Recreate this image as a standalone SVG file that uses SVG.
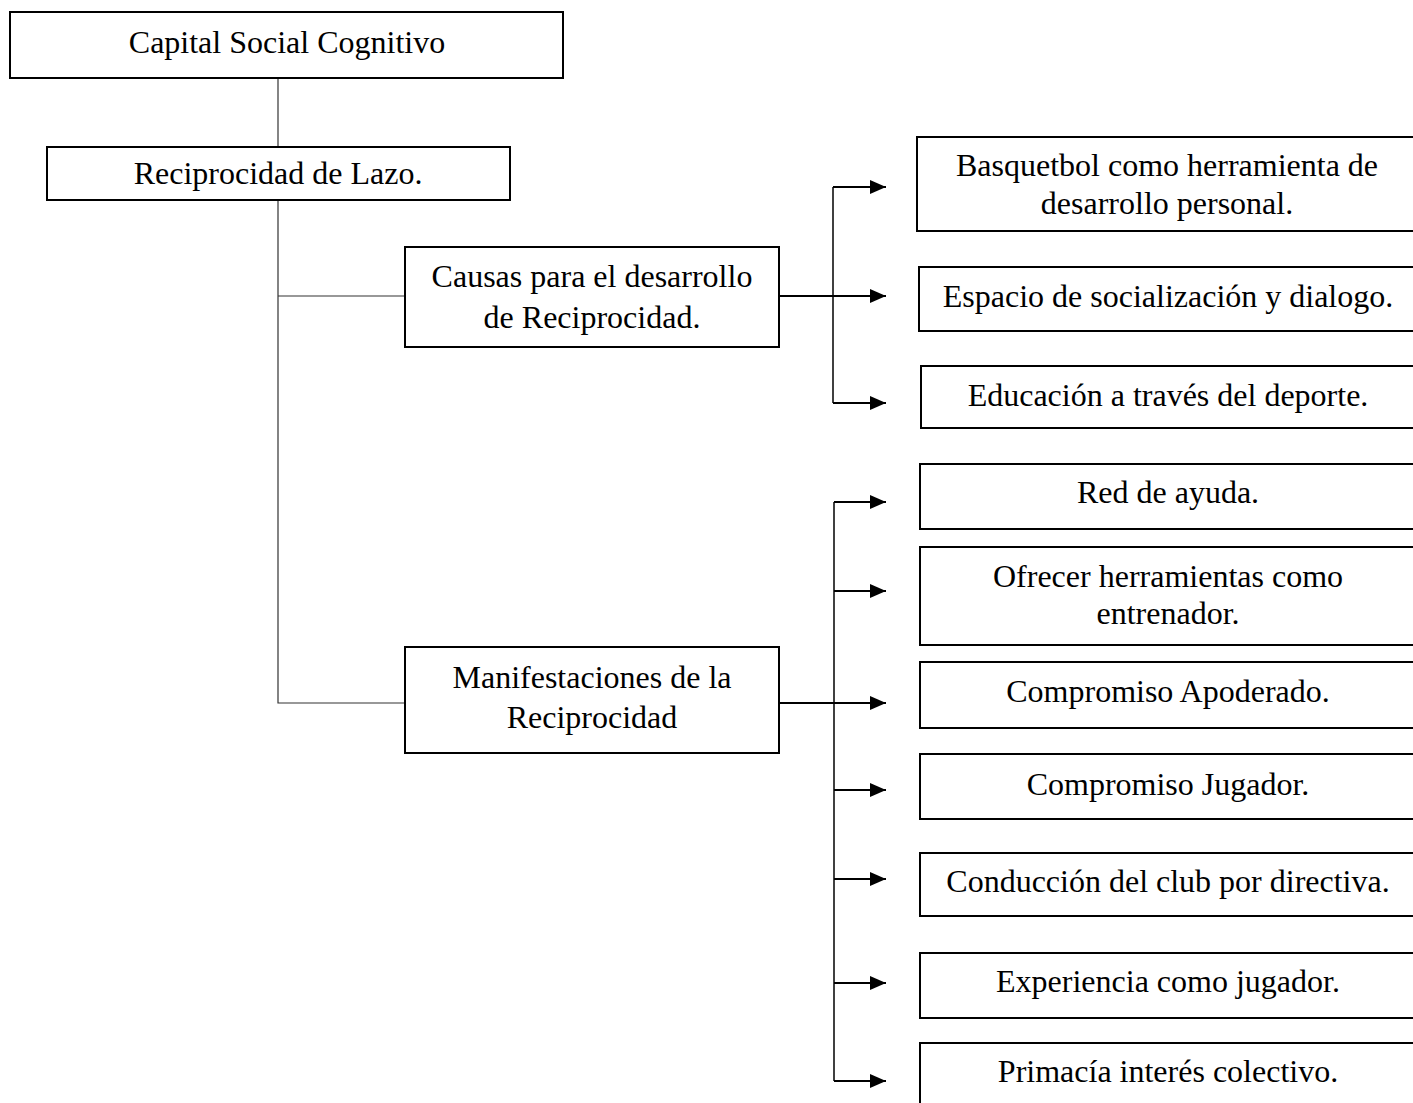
<svg xmlns="http://www.w3.org/2000/svg" width="1413" height="1103" viewBox="0 0 1413 1103">
  <style>
    .box { fill: #ffffff; stroke: #000000; stroke-width: 2; }
    .lbl { font-family: "Liberation Serif", "Times New Roman", serif; font-size: 32px; fill: #000000; text-anchor: middle; }
    .thin { fill: none; stroke: #333333; stroke-width: 1.2; }
    .arr { fill: none; stroke: #000000; stroke-width: 2; }
    .rail { fill: none; stroke: #000000; stroke-width: 1.5; }
  </style>
  <defs>
    <marker id="head" markerUnits="userSpaceOnUse" markerWidth="16" markerHeight="14" refX="16" refY="7" orient="auto">
      <path d="M0,0 L16,7 L0,14 Z" fill="#000000"/>
    </marker>
  </defs>
  <rect width="1413" height="1103" fill="#ffffff"/>

  <!-- connectors -->
  <g id="connectors">
    <path class="thin" d="M278,78 V147"/>
    <path class="thin" d="M278,200 V703 H405"/>
    <path class="thin" d="M278,296 H405"/>
    <!-- causas fan-out -->
    <path class="rail" d="M833,187 V403"/>
    <path class="arr" d="M779,296 H886" marker-end="url(#head)"/>
    <path class="arr" d="M833,187 H886" marker-end="url(#head)"/>
    <path class="arr" d="M833,403 H886" marker-end="url(#head)"/>
    <!-- manifestaciones fan-out -->
    <path class="rail" d="M834,502 V1081"/>
    <path class="arr" d="M779,703 H886" marker-end="url(#head)"/>
    <path class="arr" d="M834,502 H886" marker-end="url(#head)"/>
    <path class="arr" d="M834,591 H886" marker-end="url(#head)"/>
    <path class="arr" d="M834,790 H886" marker-end="url(#head)"/>
    <path class="arr" d="M834,879 H886" marker-end="url(#head)"/>
    <path class="arr" d="M834,983 H886" marker-end="url(#head)"/>
    <path class="arr" d="M834,1081 H886" marker-end="url(#head)"/>
  </g>

  <g id="capital">
    <rect class="box" x="10" y="12" width="553" height="66"/>
    <text class="lbl" x="287" y="53">Capital Social Cognitivo</text>
  </g>
  <g id="lazo">
    <rect class="box" x="47" y="147" width="463" height="53"/>
    <text class="lbl" x="278" y="184">Reciprocidad de Lazo.</text>
  </g>
  <g id="causas">
    <rect class="box" x="405" y="247" width="374" height="100"/>
    <text class="lbl" x="592" y="287">Causas para el desarrollo</text>
    <text class="lbl" x="592" y="328">de Reciprocidad.</text>
  </g>
  <g id="manifestaciones">
    <rect class="box" x="405" y="647" width="374" height="106"/>
    <text class="lbl" x="592" y="688">Manifestaciones de la</text>
    <text class="lbl" x="592" y="728">Reciprocidad</text>
  </g>

  <g id="basquetbol">
    <rect class="box" x="917" y="137" width="500" height="94"/>
    <text class="lbl" x="1167" y="176">Basquetbol como herramienta de</text>
    <text class="lbl" x="1167" y="214">desarrollo personal.</text>
  </g>
  <g id="espacio">
    <rect class="box" x="919" y="267" width="500" height="64"/>
    <text class="lbl" x="1168" y="307">Espacio de socialización y dialogo.</text>
  </g>
  <g id="educacion">
    <rect class="box" x="921" y="366" width="500" height="62"/>
    <text class="lbl" x="1168" y="406">Educación a través del deporte.</text>
  </g>
  <g id="red">
    <rect class="box" x="920" y="464" width="500" height="65"/>
    <text class="lbl" x="1168" y="503">Red de ayuda.</text>
  </g>
  <g id="ofrecer">
    <rect class="box" x="920" y="547" width="500" height="98"/>
    <text class="lbl" x="1168" y="587">Ofrecer herramientas como</text>
    <text class="lbl" x="1168" y="624">entrenador.</text>
  </g>
  <g id="apoderado">
    <rect class="box" x="920" y="662" width="500" height="66"/>
    <text class="lbl" x="1168" y="702">Compromiso Apoderado.</text>
  </g>
  <g id="jugador">
    <rect class="box" x="920" y="754" width="500" height="65"/>
    <text class="lbl" x="1168" y="795">Compromiso Jugador.</text>
  </g>
  <g id="conduccion">
    <rect class="box" x="920" y="853" width="500" height="63"/>
    <text class="lbl" x="1168" y="892">Conducción del club por directiva.</text>
  </g>
  <g id="experiencia">
    <rect class="box" x="920" y="953" width="500" height="65"/>
    <text class="lbl" x="1168" y="992">Experiencia como jugador.</text>
  </g>
  <g id="primacia">
    <rect class="box" x="920" y="1043" width="500" height="80"/>
    <text class="lbl" x="1168" y="1082">Primacía interés colectivo.</text>
  </g>
</svg>
